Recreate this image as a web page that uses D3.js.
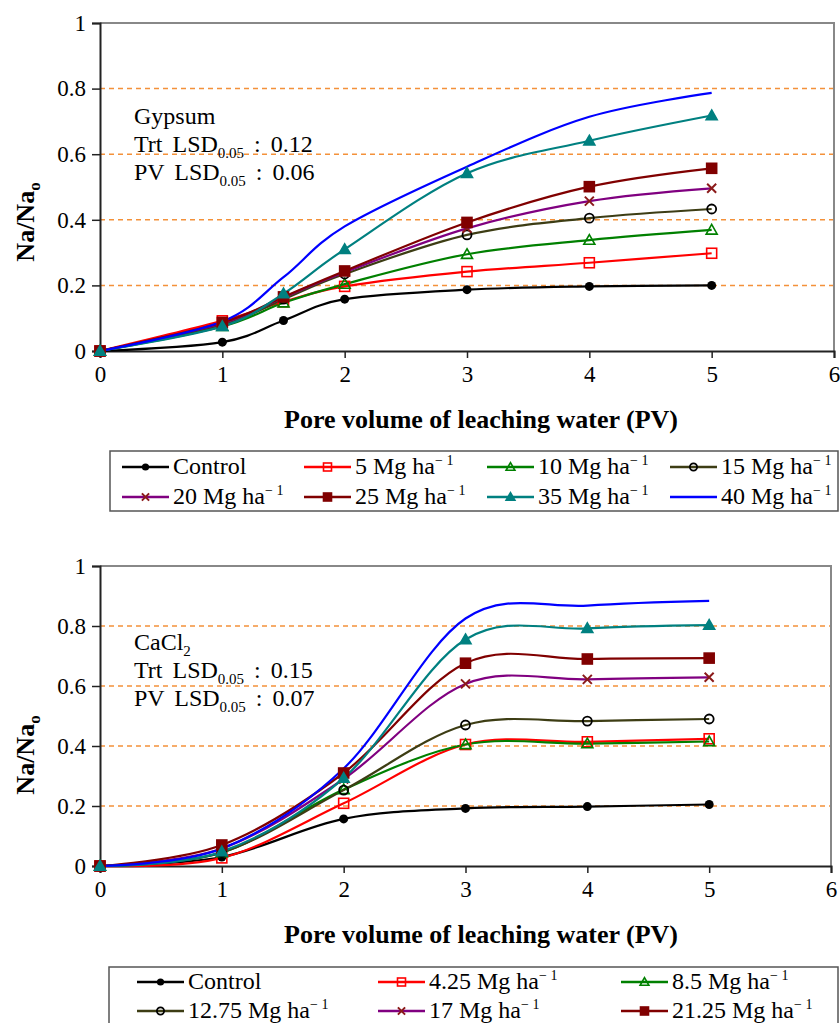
<!DOCTYPE html>
<html>
<head>
<meta charset="utf-8">
<script src="https://cdn.jsdelivr.net/npm/d3@7"></script>
<style>
  body { margin: 0; background: #fff; }
  svg { display: block; }
  svg text { font-family: "Liberation Serif", Tinos, "Times New Roman", "Nimbus Roman", "DejaVu Serif", serif; }
</style>
</head>
<body>
<script>
// ---- data ----
const pvGypsum = [0, 1, 1.5, 2, 3, 4, 5];
const pvCaCl2 = [0, 1, 2, 3, 4, 5];
const xTicks = [0, 1, 2, 3, 4, 5, 6];
const yTicks = [0, 0.2, 0.4, 0.6, 0.8, 1];
const gridTicks = [0.2, 0.4, 0.6, 0.8];

const gypsumLabels = ['Control', '5', '10', '15', '20', '25', '35', '40'];
const gypsumControl = [0, 0.027, 0.093, 0.158, 0.187, 0.197, 0.200];
const gypsum5 = [0, 0.092, 0.150, 0.197, 0.242, 0.269, 0.298];
const gypsum10 = [0, 0.075, 0.147, 0.204, 0.295, 0.338, 0.369];
const gypsum15 = [0, 0.080, 0.158, 0.235, 0.354, 0.405, 0.433];
const gypsum20 = [0, 0.085, 0.163, 0.240, 0.374, 0.457, 0.496];
const gypsum25 = [0, 0.087, 0.165, 0.244, 0.392, 0.501, 0.557];
const gypsum35 = [0, 0.075, 0.175, 0.310, 0.542, 0.641, 0.718];
const gypsum40 = [0, 0.090, 0.225, 0.380, 0.562, 0.714, 0.787];

const cacl2Labels = ['Control', '4.25', '8.5', '12.75', '17', '21.25', '25.5', '34'];
const cacl2Control = [0, 0.030, 0.157, 0.192, 0.198, 0.205];
const cacl2_425 = [0, 0.027, 0.209, 0.405, 0.414, 0.424];
const cacl2_85 = [0, 0.045, 0.255, 0.405, 0.408, 0.415];
const cacl2_1275 = [0, 0.045, 0.253, 0.470, 0.483, 0.490];
const cacl2_17 = [0, 0.058, 0.290, 0.607, 0.622, 0.629];
const cacl2_2125 = [0, 0.070, 0.310, 0.676, 0.690, 0.693];
const cacl2_255 = [0, 0.048, 0.293, 0.755, 0.792, 0.803];
const cacl2_34 = [0, 0.058, 0.325, 0.825, 0.868, 0.884];

// line colour, marker type, marker colour for each treatment slot
const styles = [
  { color: '#000000', marker: 'dot', mcolor: '#000000' },
  { color: '#ff0000', marker: 'square', mcolor: '#ff0000' },
  { color: '#008000', marker: 'triangle', mcolor: '#008000' },
  { color: '#3d3d14', marker: 'circle', mcolor: '#000000' },
  { color: '#800080', marker: 'x', mcolor: '#8b1a1a' },
  { color: '#800000', marker: 'fsquare', mcolor: '#800000' },
  { color: '#008080', marker: 'ftriangle', mcolor: '#008080' },
  { color: '#0000ff', marker: 'none', mcolor: '#0000ff' }
];

const serif = '"Liberation Serif", Tinos, "Times New Roman", "Nimbus Roman", "DejaVu Serif", serif';

const svg = d3.select('body').append('svg')
  .attr('width', 840)
  .attr('height', 1023)
  .attr('font-family', serif);

function drawMarker(g, type, x, y, c, s) {
  if (type === 'dot') {
    g.append('circle').attr('cx', x).attr('cy', y).attr('r', s * 0.45).attr('fill', c);
  } else if (type === 'circle') {
    g.append('circle').attr('cx', x).attr('cy', y).attr('r', s * 0.45)
      .attr('fill', 'none').attr('stroke', c).attr('stroke-width', 1.8);
  } else if (type === 'square' || type === 'fsquare') {
    g.append('rect').attr('x', x - s / 2).attr('y', y - s / 2).attr('width', s).attr('height', s)
      .attr('fill', type === 'fsquare' ? c : 'none').attr('stroke', c).attr('stroke-width', 1.6);
  } else if (type === 'triangle' || type === 'ftriangle') {
    const h = s * 0.55;
    g.append('path').attr('d', `M${x},${y - h}L${x + h},${y + h * 0.75}L${x - h},${y + h * 0.75}Z`)
      .attr('fill', type === 'ftriangle' ? c : 'none').attr('stroke', c).attr('stroke-width', 1.6);
  } else if (type === 'x') {
    const h = s * 0.45;
    g.append('path').attr('d', `M${x - h},${y - h}L${x + h},${y + h}M${x - h},${y + h}L${x + h},${y - h}`)
      .attr('stroke', c).attr('stroke-width', 2).attr('fill', 'none');
  }
}

function mgLabel(t, value) {
  t.append('tspan').text(value + ' Mg ha');
  t.append('tspan').attr('font-size', '14px').attr('dy', -9).text('\u2212 1');
}

function lsdLine(t, prefix, val) {
  t.append('tspan').text(prefix + ' LSD');
  t.append('tspan').attr('font-size', '15px').attr('dy', 6).text('0.05');
  t.append('tspan').attr('dy', -6).text(' : ' + val);
}

function drawPanel(cfg) {
  const x = d3.scaleLinear().domain([0, 6]).range([cfg.left, cfg.right]);
  const y = d3.scaleLinear().domain([0, 1]).range([cfg.bottom, cfg.top]);
  const g = svg.append('g');

  // orange dashed gridlines
  g.selectAll('.grid').data(gridTicks).enter().append('line')
    .attr('x1', cfg.left).attr('x2', cfg.right)
    .attr('y1', d => y(d)).attr('y2', d => y(d))
    .attr('stroke', '#f4913a').attr('stroke-width', 1.5).attr('stroke-dasharray', '5,4');

  // grey frame on top and right
  g.append('path')
    .attr('d', `M${cfg.left},${cfg.top}H${cfg.right}V${cfg.bottom}`)
    .attr('fill', 'none').attr('stroke', '#888').attr('stroke-width', 2);

  // axes
  const xAxis = g.append('g').attr('transform', `translate(0,${cfg.bottom})`)
    .call(d3.axisBottom(x).tickValues(xTicks).tickFormat(d3.format('d')).tickSize(7).tickPadding(8));
  const yAxis = g.append('g').attr('transform', `translate(${cfg.left},0)`)
    .call(d3.axisLeft(y).tickValues(yTicks).tickFormat(d => d === 0 || d === 1 ? d : d.toFixed(1)).tickSize(8).tickPadding(6));
  [xAxis, yAxis].forEach(a => {
    a.attr('font-family', serif);
    a.select('.domain').attr('stroke', '#222').attr('stroke-width', 2);
    a.selectAll('.tick line').attr('stroke', '#222').attr('stroke-width', 1.5);
    a.selectAll('.tick text').attr('font-size', '23px').attr('fill', '#000');
  });

  // series
  const line = d3.line().x(d => x(d[0])).y(d => y(d[1])).curve(d3.curveCardinal.tension(0));
  cfg.series.forEach((vals, i) => {
    const st = styles[i];
    const pts = cfg.pv.map((p, k) => [p, vals[k]]);
    g.append('path').datum(pts).attr('d', line)
      .attr('fill', 'none').attr('stroke', st.color).attr('stroke-width', 2.2);
  });
  cfg.series.forEach((vals, i) => {
    const st = styles[i];
    cfg.pv.forEach((p, k) => drawMarker(g, st.marker, x(p), y(vals[k]), st.mcolor, 10));
  });

  // axis titles
  g.append('text')
    .attr('x', 481).attr('y', cfg.bottom + 77)
    .attr('text-anchor', 'middle').attr('font-size', '26px').attr('font-weight', 'bold')
    .text('Pore volume of leaching water (PV)');
  const yt = g.append('text')
    .attr('transform', `translate(34,${cfg.yTitle}) rotate(-90)`)
    .attr('text-anchor', 'middle').attr('font-size', '26px').attr('font-weight', 'bold');
  yt.append('tspan').text('Na/Na');
  yt.append('tspan').attr('font-size', '17px').attr('dy', 6).text('o');

  // annotation
  const ax = 134;
  const t1 = g.append('text').attr('x', ax).attr('y', cfg.noteY).attr('font-size', '24px');
  if (cfg.name === 'CaCl2') {
    t1.append('tspan').text('CaCl');
    t1.append('tspan').attr('font-size', '15px').attr('dy', 6).text('2');
  } else {
    t1.text(cfg.name);
  }
  lsdLine(g.append('text').attr('x', ax).attr('y', cfg.noteY + 28).attr('font-size', '24px')
    .attr('word-spacing', '4px'), 'Trt', cfg.trt);
  lsdLine(g.append('text').attr('x', ax).attr('y', cfg.noteY + 56).attr('font-size', '24px')
    .attr('word-spacing', '4px'), 'PV', cfg.pvLsd);

  // legend
  const lg = svg.append('g');
  lg.append('rect').attr('x', cfg.legend.x).attr('y', cfg.legend.y)
    .attr('width', cfg.legend.w).attr('height', cfg.legend.h)
    .attr('fill', 'none').attr('stroke', '#555').attr('stroke-width', 1.5);
  cfg.legend.items.forEach((idx, n) => {
    const col = n % cfg.legend.cols.length;
    const row = Math.floor(n / cfg.legend.cols.length);
    const lx = cfg.legend.cols[col];
    const ly = cfg.legend.rows[row];
    const st = styles[idx];
    lg.append('line').attr('x1', lx).attr('x2', lx + 47).attr('y1', ly).attr('y2', ly)
      .attr('stroke', st.color).attr('stroke-width', 2.5);
    drawMarker(lg, st.marker, lx + 23.5, ly, st.mcolor, 8);
    const t = lg.append('text').attr('x', lx + 51).attr('y', ly + 7).attr('font-size', '24px');
    if (idx === 0) t.text('Control');
    else mgLabel(t, cfg.labels[idx]);
  });
}

drawPanel({
  name: 'Gypsum', trt: '0.12', pvLsd: '0.06',
  left: 100, right: 834, top: 23, bottom: 351,
  pv: pvGypsum, labels: gypsumLabels,
  series: [gypsumControl, gypsum5, gypsum10, gypsum15, gypsum20, gypsum25, gypsum35, gypsum40],
  yTitle: 222, noteY: 124,
  legend: {
    x: 110, y: 451, w: 728, h: 60,
    cols: [122, 304, 487, 670], rows: [467, 497],
    items: [0, 1, 2, 3, 4, 5, 6, 7]
  }
});

drawPanel({
  name: 'CaCl2', trt: '0.15', pvLsd: '0.07',
  left: 100, right: 831, top: 566, bottom: 866,
  pv: pvCaCl2, labels: cacl2Labels,
  series: [cacl2Control, cacl2_425, cacl2_85, cacl2_1275, cacl2_17, cacl2_2125, cacl2_255, cacl2_34],
  yTitle: 755, noteY: 650,
  legend: {
    x: 109, y: 967, w: 729, h: 90,
    cols: [137, 378, 621], rows: [982, 1011, 1042],
    items: [0, 1, 2, 3, 4, 5]
  }
});
</script>
</body>
</html>
